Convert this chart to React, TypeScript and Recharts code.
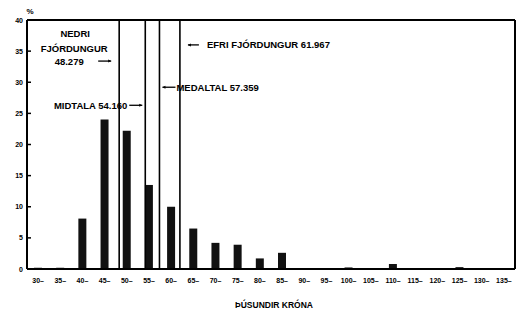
import React from 'react';
import { BarChart, Bar, XAxis, YAxis, ReferenceLine } from 'recharts';

const categories = [30, 35, 40, 45, 50, 55, 60, 65, 70, 75, 80, 85, 90, 95, 100, 105, 110, 115, 120, 125, 130, 135];
const tickLabels = ['30–', '35–', '40–', '45–', '50–', '55–', '60–', '65–', '70–', '75–', '80–', '85–', '90–', '95–', '100–', '105–', '110–', '115–', '120–', '125–', '130–', '135–'];
const percents = [0.2, 0.2, 8.1, 24.0, 22.2, 13.5, 10.0, 6.5, 4.2, 3.9, 1.7, 2.6, 0, 0.05, 0.25, 0, 0.8, 0.05, 0.05, 0.3, 0, 0];
const yTicks = [0, 5, 10, 15, 20, 25, 30, 35, 40];
const yUnit = '%';

const nedriValue = 48.279;
const midtalaValue = 54.16;
const medaltalValue = 57.359;
const efriValue = 61.967;

const data = categories.map((c, i) => ({ x: c, pct: percents[i] }));
const labelOf: Record<number, string> = {};
categories.forEach((c, i) => (labelOf[c] = tickLabels[i]));

const FONT = '"Liberation Sans", Arial, sans-serif';
const Y_MAX = 40;

const LeftTick = (props: any) => {
  const { x, y, payload } = props;
  return (
    <g>
      <line x1={x + 4} x2={x + 8} y1={y} y2={y} stroke="#000" strokeWidth={1.5} />
      <text x={x} y={y} textAnchor="end" dominantBaseline="central" fontSize={7} fontWeight="bold" fontFamily={FONT} fill="#000">
        {payload.value}
      </text>
      {payload.value === Y_MAX && (
        <text x={x + 7} y={y - 9} textAnchor="middle" dominantBaseline="central" fontSize={8} fontWeight="bold" fontFamily={FONT} fill="#000">
          {yUnit}
        </text>
      )}
    </g>
  );
};

const RightTick = (props: any) => {
  const { x, y, payload } = props;
  return (
    <g>
      <line x1={x - 3} x2={x - 7} y1={y} y2={y} stroke="#000" strokeWidth={1.5} />
      <text x={x} y={y} textAnchor="start" dominantBaseline="central" fontSize={7} fontWeight="bold" fontFamily={FONT} fill="#000">
        {payload.value}
      </text>
    </g>
  );
};

const yOf = (vb: any, v: number) => vb.y + vb.height * (1 - v / Y_MAX);

const txt = { fontSize: 9.5, fontWeight: 'bold' as const, fontFamily: FONT, fill: '#000' };

const Arrow = ({ x1, x2, y }: { x1: number; x2: number; y: number }) => {
  const dir = x2 > x1 ? 1 : -1;
  return (
    <g>
      <line x1={x1} x2={x2} y1={y} y2={y} stroke="#000" strokeWidth={1.3} />
      <polygon points={`${x2},${y} ${x2 - dir * 3},${y - 1.5} ${x2 - dir * 3},${y + 1.5}`} fill="#000" />
    </g>
  );
};

const NedriLabel = (p: any) => {
  const vb = p.viewBox;
  const x = vb.x;
  return (
    <g>
      <text x={x - 44} y={yOf(vb, 37.9)} textAnchor="middle" dominantBaseline="central" {...txt}>NEDRI</text>
      <text x={x - 45} y={yOf(vb, 35.5)} textAnchor="middle" dominantBaseline="central" {...txt}>FJÓRDUNGUR</text>
      <text x={x - 50} y={yOf(vb, 33.4)} textAnchor="middle" dominantBaseline="central" {...txt}>{nedriValue.toFixed(3)}</text>
      <Arrow x1={x - 21} x2={x - 8} y={yOf(vb, 33.4)} />
    </g>
  );
};

const MidtalaLabel = (p: any) => {
  const vb = p.viewBox;
  const x = vb.x;
  return (
    <g>
      <text x={x - 18} y={yOf(vb, 26.3)} textAnchor="end" dominantBaseline="central" {...txt}>{`MIDTALA ${midtalaValue.toFixed(3)}`}</text>
      <Arrow x1={x - 16} x2={x - 3} y={yOf(vb, 26.3)} />
    </g>
  );
};

const MedaltalLabel = (p: any) => {
  const vb = p.viewBox;
  const x = vb.x;
  return (
    <g>
      <Arrow x1={x + 16} x2={x + 3} y={yOf(vb, 29.2)} />
      <text x={x + 17} y={yOf(vb, 29.2)} textAnchor="start" dominantBaseline="central" {...txt}>{`MEDALTAL ${medaltalValue.toFixed(3)}`}</text>
    </g>
  );
};

const EfriLabel = (p: any) => {
  const vb = p.viewBox;
  const x = vb.x;
  return (
    <g>
      <Arrow x1={x + 19} x2={x + 8} y={yOf(vb, 36.0)} />
      <text x={x + 27} y={yOf(vb, 36.0)} textAnchor="start" dominantBaseline="central" {...txt}>{`EFRI FJÓRDUNGUR ${efriValue.toFixed(3)}`}</text>
    </g>
  );
};

export default function App() {
  return (
    <div style={{ position: 'absolute', left: 0, top: 0, background: '#fff' }}>
      <BarChart width={530} height={311} data={data} margin={{ top: 20, right: 0, left: 0, bottom: 0 }}>
        <XAxis
          dataKey="x"
          type="number"
          domain={[27.5, 137.5]}
          ticks={categories}
          interval={0}
          tickLine={false}
          tickSize={0}
          tickMargin={9}
          height={42}
          axisLine={{ stroke: '#000', strokeWidth: 2 }}
          tickFormatter={(v: number) => labelOf[v]}
          tick={{ fontSize: 7, fontWeight: 'bold', fill: '#000', fontFamily: FONT }}
          label={{ value: 'ÞÚSUNDIR KRÓNA', position: 'insideBottom', offset: 3, dx: 3, fontSize: 8.5, fontWeight: 'bold', fill: '#000', fontFamily: FONT }}
        />
        <YAxis
          yAxisId="left"
          orientation="left"
          width={27}
          domain={[0, Y_MAX]}
          ticks={yTicks}
          interval={0}
          tickLine={false}
          tickSize={0}
          tickMargin={4}
          axisLine={{ stroke: '#000', strokeWidth: 2 }}
          tick={<LeftTick />}
        />
        <YAxis
          yAxisId="right"
          orientation="right"
          width={15}
          domain={[0, Y_MAX]}
          ticks={yTicks}
          interval={0}
          tickLine={false}
          tickSize={0}
          tickMargin={3}
          axisLine={{ stroke: '#000', strokeWidth: 2 }}
          tick={<RightTick />}
        />
        <ReferenceLine yAxisId="left" y={Y_MAX} stroke="#000" strokeWidth={2} />
        <Bar yAxisId="left" dataKey="pct" fill="#111" barSize={8} isAnimationActive={false} />
        <ReferenceLine yAxisId="left" x={nedriValue} stroke="#000" strokeWidth={1.6} label={(p: any) => <NedriLabel {...p} />} />
        <ReferenceLine yAxisId="left" x={midtalaValue} stroke="#000" strokeWidth={1.6} label={(p: any) => <MidtalaLabel {...p} />} />
        <ReferenceLine yAxisId="left" x={medaltalValue} stroke="#000" strokeWidth={1.6} label={(p: any) => <MedaltalLabel {...p} />} />
        <ReferenceLine yAxisId="left" x={efriValue} stroke="#000" strokeWidth={1.6} label={(p: any) => <EfriLabel {...p} />} />
      </BarChart>
    </div>
  );
}
